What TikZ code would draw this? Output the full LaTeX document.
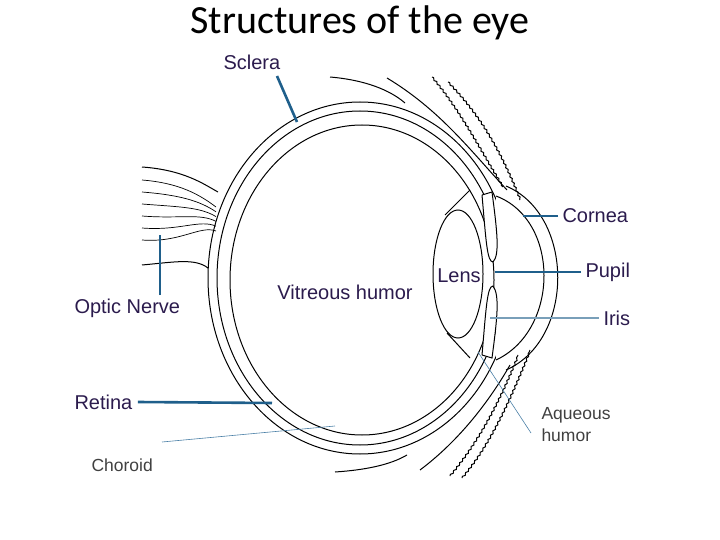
\documentclass[tikz,border=0pt]{standalone}
\usepackage{fontspec}
\setmainfont{Liberation Sans}
\newfontfamily\titlefont{Carlito}
\usetikzlibrary{decorations.pathmorphing}
\definecolor{pointer}{HTML}{1F5F8B}
\definecolor{labeltext}{HTML}{2B1B4D}
\definecolor{thinline}{HTML}{4A7FA6}
\tikzset{
  pointer line/.style={pointer, line width=2.6pt},
  thin pointer/.style={thinline, line width=0.6pt},
  part label/.style={labeltext, font=\fontsize{20}{22}\selectfont, inner sep=0pt},
  side label/.style={black!75, font=\fontsize{17.5}{21.5}\selectfont, inner sep=0pt, align=left},
  skin/.style={decorate, decoration={snake, amplitude=0.8pt, segment length=5pt}}
}
\begin{document}
\begin{tikzpicture}[x=1pt, y=-1pt, line width=1pt]
  \useasboundingbox (0,0) rectangle (720,540);
  \node[font=\titlefont\fontsize{40}{44}\selectfont] (title) at (360,23) {Structures of the eye};
  % eyeball layers
  \draw (360,278) ellipse (152 and 176);
  \draw (360,278) ellipse (143 and 167);
  \draw (362,280) ellipse (132 and 155);
  % cornea
  \fill[white] (496,196) .. controls (560,220) and (560,330) .. (496,360) -- cycle;
  \draw (496,196) .. controls (560,220) and (560,330) .. (496,360);
  \draw (506,186) .. controls (575,215) and (575,340) .. (506,370);
  % lens
  \draw[fill=white] (458,274) ellipse (25 and 64);
  \draw (445,215) -- (470,190) (447,333) -- (470,358);
  % iris
  \draw[fill=white] (482,195) -- (492,192) .. controls (497,230) and (500,255) .. (493,262) .. controls (487,262) and (486,240) .. (482,195);
  \draw[fill=white] (482,355) -- (492,358) .. controls (497,320) and (500,295) .. (493,286) .. controls (487,286) and (486,310) .. (482,355);
  % eyelids
  \draw (330,77) .. controls (365,80) and (390,90) .. (405,103);
  \draw (387,78) .. controls (440,110) and (470,150) .. (507,190);
  \draw[skin] (432,77) .. controls (460,110) and (480,150) .. (503,187);
  \draw[skin] (448,82) .. controls (480,115) and (500,150) .. (520,200);
  \draw (335,472) .. controls (365,470) and (390,465) .. (407,455);
  \draw (420,470) .. controls (460,440) and (490,400) .. (510,365);
  \draw[skin] (450,476) .. controls (480,440) and (500,400) .. (518,355);
  \draw[skin] (462,478) .. controls (490,445) and (510,400) .. (530,350);
  % optic nerve
  \draw (142,167) .. controls (185,170) and (205,185) .. (218,192);
  \foreach \y in {180,192,204,216,228,240} {
    \draw[line width=0.7pt] (142,\y) .. controls (180,\y+3) and (200,\y*0.5+105) .. (216,\y*0.4+135);
  }
  \draw (142,265) .. controls (175,262) and (195,258) .. (208,268);
  % pointers
  \node[part label, anchor=west] (sclera) at (223,62) {Sclera};
  \coordinate (scleraTip) at (297,122);
  \draw[pointer line] (277,76) -- (scleraTip);
  \node[part label, anchor=west] (cornea) at (562,216) {Cornea};
  \coordinate (corneaTip) at (523,216);
  \draw[pointer line] (cornea.west) ++(-4,0) -- (corneaTip);
  \node[part label, anchor=west] (pupil) at (585,272) {Pupil};
  \coordinate (pupilTip) at (495,272);
  \draw[pointer line] (pupil.west) ++(-4,0) -- (pupilTip);
  \node[part label, anchor=west] (iris) at (603,318) {Iris};
  \coordinate (irisTip) at (490,318);
  \draw[pointer line, pointer!60] (iris.west) ++(-4,0) -- (irisTip);
  \node[part label] (lens) at (459,276) {Lens};
  \node[part label] (vitreous) at (345,292) {Vitreous humor};
  \node[part label, anchor=west] (optic) at (74,308) {Optic Nerve};
  \coordinate (opticTop) at (160,235);
  \draw[pointer line] (160,295) -- (opticTop);
  \node[part label, anchor=west] (retina) at (74,402) {Retina};
  \coordinate (retinaTip) at (272,403);
  \draw[pointer line] (retina.east) ++(5,0) -- (retinaTip);
  \node[side label, anchor=west] (choroid) at (91,465) {Choroid};
  \coordinate (choroidTip) at (335,426);
  \coordinate (choroidEnd) at (162,442);
  \draw[thin pointer] (choroidEnd) -- (choroidTip);
  \node[side label, anchor=north west] (aqueous) at (541,407) {Aqueous\\humor};
  \coordinate (aqueousTip) at (478,352);
  \draw[thin pointer] (531,433) -- (aqueousTip);
\end{tikzpicture}
\end{document}
